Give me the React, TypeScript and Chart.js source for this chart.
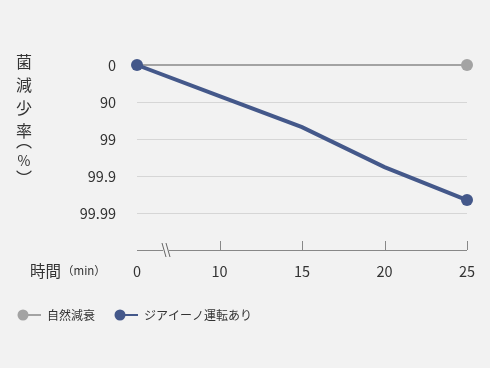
import React, { useEffect, useRef } from "react";
import { Chart, registerables } from "chart.js";

Chart.register(...registerables);

const timeLabels = ["0", "10", "15", "20", "25"];
const yTickLabels = ["0", "90", "99", "99.9", "99.99"];
const naturalDecay = [0, null, null, null, 0];
const ziinoOn = [0, 0.84, 1.68, 2.76, 3.65];
const seriesNames = ["自然減衰", "ジアイーノ運転あり"];
const yTitleChars = ["菌", "減", "少", "率", "︵", "%", "︶"];
const xTitleMain = "時間";
const xTitleUnit = "（min）";

const GRAY = "#a3a3a3";
const BLUE = "#44588a";
const FONT = "'Noto Sans CJK JP', 'Noto Sans', sans-serif";

export default function App() {
  const ref = useRef<HTMLCanvasElement>(null);
  useEffect(() => {
    document.body.style.margin = "0";
    document.body.style.background = "#f2f2f2";
    const canvas = ref.current!;
    const decor = {
      id: "decor",
      beforeDraw(chart: any) {
        const c = chart.ctx;
        c.save();
        c.fillStyle = "#f2f2f2";
        c.fillRect(0, 0, chart.width, chart.height);
        c.restore();
      },
      afterDraw(chart: any) {
        const c = chart.ctx;
        const x = chart.scales.x;
        const area = chart.chartArea;
        const yb = area.bottom;
        c.save();
        // x axis line
        c.strokeStyle = "#888";
        c.lineWidth = 1;
        c.beginPath();
        c.moveTo(x.getPixelForValue(0), yb + 0.5);
        c.lineTo(x.getPixelForValue(4), yb + 0.5);
        c.stroke();
        // ticks
        for (let i = 1; i < timeLabels.length; i++) {
          const px = Math.round(x.getPixelForValue(i)) + 0.5;
          c.beginPath();
          c.moveTo(px, yb - 9);
          c.lineTo(px, yb);
          c.stroke();
        }
        // break mark
        const bx = x.getPixelForValue(0) + 28;
        c.fillStyle = "#f2f2f2";
        c.fillRect(bx - 2, yb - 2, 6, 4);
        c.strokeStyle = "#666";
        c.beginPath();
        c.moveTo(bx - 3, yb - 7);
        c.lineTo(bx + 1, yb + 7);
        c.moveTo(bx + 1, yb - 7);
        c.lineTo(bx + 5, yb + 7);
        c.stroke();
        // y title
        c.fillStyle = "#333";
        c.textAlign = "center";
        c.textBaseline = "middle";
        const ys = [62, 85, 108, 131, 141, 161, 178];
        yTitleChars.forEach((ch, i) => {
          c.font = ch === "%" ? `14px ${FONT}` : `16px ${FONT}`;
          c.fillText(ch, 24, ys[i]);
        });
        // x title
        c.textAlign = "left";
        c.font = `15.5px ${FONT}`;
        c.fillText(xTitleMain, 30, 271);
        c.font = `11.5px ${FONT}`;
        c.fillText(xTitleUnit, 62, 271);
        // legend
        const ly = 315;
        const items = [
          { color: GRAY, x: 23, name: seriesNames[0] },
          { color: BLUE, x: 120, name: seriesNames[1] },
        ];
        items.forEach((it) => {
          c.strokeStyle = it.color;
          c.lineWidth = 2;
          c.beginPath();
          c.moveTo(it.x, ly);
          c.lineTo(it.x + 18, ly);
          c.stroke();
          c.fillStyle = it.color;
          c.beginPath();
          c.arc(it.x, ly, 5.5, 0, Math.PI * 2);
          c.fill();
          c.fillStyle = "#333";
          c.font = `12px ${FONT}`;
          c.textAlign = "left";
          c.fillText(it.name, it.x + 24, ly);
        });
        c.restore();
      },
    };
    const chart = new Chart(canvas, {
      type: "line",
      data: {
        labels: timeLabels,
        datasets: [
          {
            label: seriesNames[1],
            data: ziinoOn,
            borderColor: BLUE,
            backgroundColor: BLUE,
            borderWidth: 4,
            pointRadius: [6, 0, 0, 0, 6],
            pointBorderWidth: 0,
            clip: false as any,
          },
          {
            label: seriesNames[0],
            data: naturalDecay,
            borderColor: GRAY,
            backgroundColor: GRAY,
            borderWidth: 2,
            pointRadius: [0, 0, 0, 0, 6],
            pointBorderWidth: 0,
            spanGaps: true,
            clip: false as any,
          },
        ],
      },
      options: {
        animation: false,
        responsive: false,
        layout: { padding: { left: 0, right: 23, top: 65, bottom: 0 } },
        plugins: { legend: { display: false }, tooltip: { enabled: false } },
        scales: {
          x: {
            type: "category",
            offset: false,
            grid: { display: false, drawTicks: false },
            border: { display: false },
            ticks: { color: "#333", font: { family: FONT, size: 14.5 }, padding: 13, maxRotation: 0, autoSkip: false },
            afterFit(scale: any) {
              scale.height = 118;
            },
          },
          y: {
            type: "linear",
            reverse: true,
            min: 0,
            max: 5,
            border: { display: false },
            grid: {
              drawTicks: false,
              lineWidth: 1,
              color: (ctx: any) => {
                const v = ctx.tick?.value;
                return v >= 1 && v <= 4 ? "#d6d6d6" : "rgba(0,0,0,0)";
              },
            },
            ticks: {
              stepSize: 1,
              padding: 21,
              color: "#333",
              font: { family: FONT, size: 14.5 },
              callback: (v: any) => yTickLabels[v] ?? "",
            },
            afterFit(scale: any) {
              scale.width = 137;
            },
          },
        },
      },
      plugins: [decor],
    });
    return () => chart.destroy();
  }, []);
  return <canvas ref={ref} width={490} height={368} style={{ display: "block" }} />;
}
